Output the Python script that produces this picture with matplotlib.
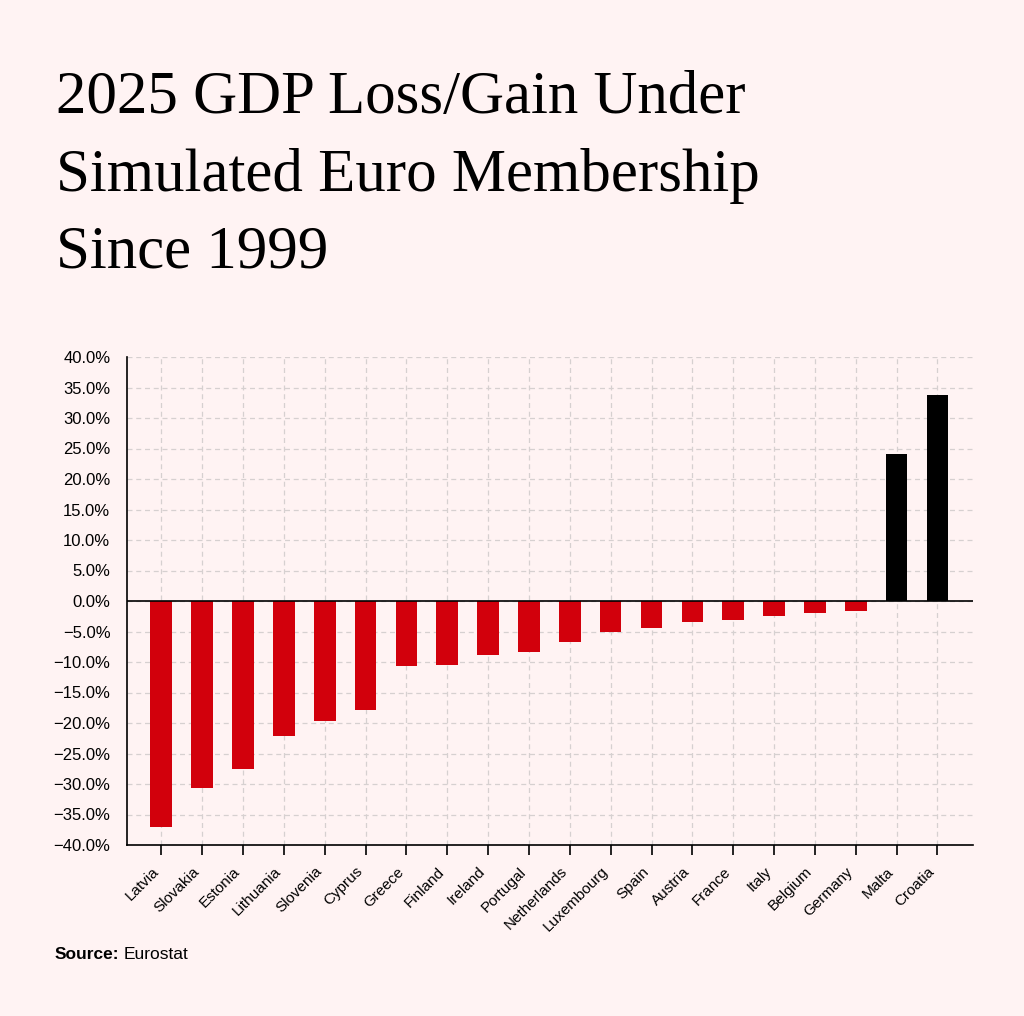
import matplotlib.pyplot as plt
from matplotlib.ticker import FuncFormatter, MultipleLocator

# GDP loss/gain (%)
countries = ['Latvia', 'Slovakia', 'Estonia', 'Lithuania', 'Slovenia', 'Cyprus',
             'Greece', 'Finland', 'Ireland', 'Portugal', 'Netherlands', 'Luxembourg',
             'Spain', 'Austria', 'France', 'Italy', 'Belgium', 'Germany', 'Malta', 'Croatia']
values = [-37.1, -30.7, -27.5, -22.1, -19.6, -17.9, -10.6, -10.5, -8.9, -8.4,
          -6.7, -5.1, -4.5, -3.4, -3.1, -2.4, -1.9, -1.7, 24.1, 33.8]
title_lines = ['2025 GDP Loss/Gain Under', 'Simulated Euro Membership', 'Since 1999']

bg = '#fff3f3'
red = '#d2000c'

plt.rcParams['font.family'] = ['Liberation Sans', 'DejaVu Sans']

fig = plt.figure(figsize=(10.24, 10.16), dpi=100, facecolor=bg)
ax = fig.add_axes([127 / 1024, 1 - 845 / 1016, (973 - 127) / 1024, (845 - 357) / 1016])
ax.set_facecolor(bg)

x = list(range(len(countries)))
colors = ['black' if v > 0 else red for v in values]
ax.bar(x, values, width=0.53, color=colors, zorder=3)
ax.axhline(0, color='black', linewidth=1.2, zorder=4)

ax.set_ylim(-40, 40)
ax.set_xlim(-0.84, len(countries) - 1 + 0.87)
ax.yaxis.set_major_locator(MultipleLocator(5))
ax.yaxis.set_major_formatter(FuncFormatter(lambda v, p: f'{v:.1f}%'.replace('-', '\u2212')))
ax.set_xticks(x)
ax.set_xticklabels(countries, rotation=45, ha='right', fontsize=11)
ax.tick_params(axis='y', labelsize=12, length=0, pad=12)
ax.tick_params(axis='x', length=7, width=1.2, pad=7)

ax.grid(True, linestyle=(0, (4, 3)), color='#d6d0d0', linewidth=0.9, zorder=0)
for side in ['top', 'right']:
    ax.spines[side].set_visible(False)
for side in ['left', 'bottom']:
    ax.spines[side].set_linewidth(1.2)

for line, base in zip(title_lines, [113, 191, 268]):
    fig.text(56 / 1024, 1 - base / 1016, line, fontsize=43.8,
             family='Liberation Serif', va='baseline', ha='left')

src = fig.text(55 / 1024, 1 - 959 / 1016, 'Source:', fontsize=12.5, fontweight='bold',
               va='baseline', ha='left')
fig.canvas.draw()
bb = src.get_window_extent()
fig.text((bb.x1 + 4) / 1024, 1 - 959 / 1016, 'Eurostat', fontsize=12.5,
         va='baseline', ha='left')

fig.savefig('out.png', dpi=100, facecolor=bg)
